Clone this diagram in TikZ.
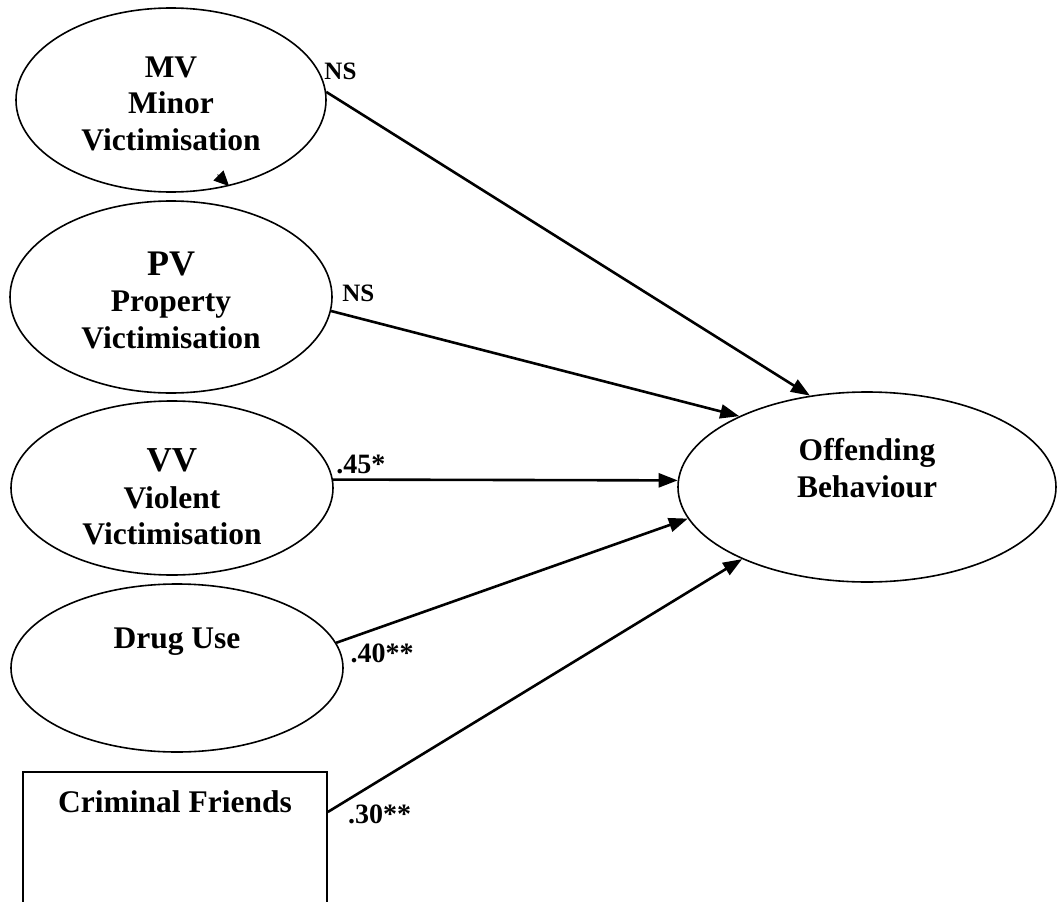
\documentclass[tikz,border=0pt]{standalone}
\usepackage{fontspec}
\setmainfont{Liberation Serif}
\usetikzlibrary{arrows.meta,shapes.geometric}

\begin{document}
\begin{tikzpicture}[x=1pt,y=-1pt,>={Triangle[length=19pt,width=14pt]},
    latent/.style={ellipse,draw,line width=1.6pt,inner sep=0pt,align=center,
        font=\fontsize{31.5}{36.5}\selectfont\bfseries},
    observed/.style={rectangle,draw,line width=1.6pt,align=center,
        font=\fontsize{31.5}{36.5}\selectfont\bfseries},
    effect/.style={->,line width=2.6pt},
    coef/.style={font=\fontsize{28}{28}\selectfont\bfseries,inner sep=0pt}]

    \useasboundingbox (0,0) rectangle (1058,902);
    \clip (0,0) rectangle (1058,902);

    \node[latent,minimum width=310pt,minimum height=184pt,text height=101pt] (mv) at (171,100) {MV\\Minor\\Victimisation};

    \node[latent,minimum width=322pt,minimum height=192pt,text height=103pt] (pv) at (171,297) {{\fontsize{36}{36}\selectfont PV}\\Property\\Victimisation};

    \node[latent,minimum width=322pt,minimum height=174pt,text height=114pt] (vv) at (172,488) {{\fontsize{35}{35}\selectfont VV}\\Violent\\Victimisation};

    \node[latent,minimum width=332pt,minimum height=168pt,text depth=60pt] (drug) at (177,668) {Drug Use};

    \node[observed,minimum width=304pt,text height=22pt,text depth=120pt,inner ysep=19pt,anchor=north] (cf) at (175,771) {Criminal Friends};

    \node[latent,minimum width=378pt,minimum height=190pt,text height=63.5pt,text depth=43pt] (off) at (867,487) {Offending\\Behaviour};

    % paths into offending
    \draw[effect] (mv.3) -- (off.122) node[coef,at start,anchor=base west,xshift=-3pt,yshift=12pt,font=\fontsize{25}{25}\selectfont\bfseries] {NS};
    \draw[effect] (pv.-5) -- (off.151) node[coef,at start,anchor=base west,xshift=10pt,yshift=10pt,font=\fontsize{25}{25}\selectfont\bfseries] {NS};
    \draw[effect] (vv.3) -- (off.178) node[coef,at start,anchor=base west,xshift=2pt,yshift=6pt] {.45*};
    \draw[effect] (drug.9) -- (off.190) node[coef,at start,anchor=base west,xshift=13pt,yshift=-20pt] {.40**};
    \draw[effect] ([yshift=-41pt]cf.north east) -- (off.210) node[coef,at start,anchor=base west,xshift=19pt,yshift=-11pt] {.30**};

    % stray tip on mv
    \coordinate (tip) at (mv.-56);
    \draw[-{Triangle[length=15pt,width=14pt]},line width=1pt] ([shift={(-11.5,-11.5)}]tip) -- (tip);

\end{tikzpicture}
\end{document}
